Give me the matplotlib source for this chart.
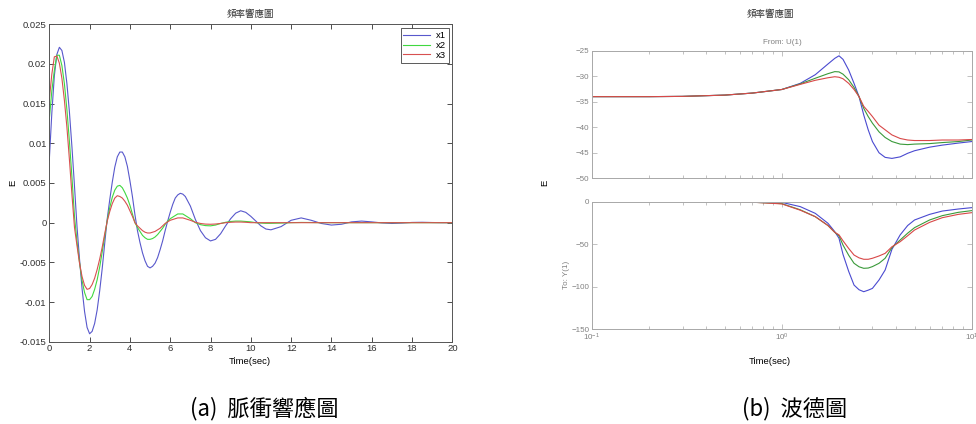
import numpy as np
import matplotlib
matplotlib.use('Agg')
import matplotlib.pyplot as plt
from matplotlib.ticker import FixedLocator, FixedFormatter, LogLocator, LogFormatterSciNotation, NullFormatter

plt.rcParams['font.family'] = ['Liberation Sans', 'Noto Sans CJK TC', 'DejaVu Sans']

# --- 脈衝響應 (impulse response) ---
# sample times: every 0.125 s up to 7 s, 0.25 s up to 11 s, 0.5 s after that
t = list(np.concatenate([np.arange(0, 7.001, 0.125),
                         np.arange(7.25, 11.001, 0.25),
                         np.arange(11.5, 20.001, 0.5)]))
x1 = [0.0079, 0.0138, 0.0185, 0.0212, 0.0221, 0.0217, 0.0202, 0.0175,
      0.0139, 0.0095, 0.0046, -0.0005, -0.0046, -0.0083, -0.0112, -0.0132,
      -0.0140, -0.0137, -0.0127, -0.0110, -0.0086, -0.0058, -0.0026, 0.0005,
      0.0029, 0.0051, 0.0070, 0.0083, 0.0089, 0.0089, 0.0083, 0.0071,
      0.0053, 0.0033, 0.0010, -0.0010, -0.0025, -0.0038, -0.0048, -0.0055,
      -0.0057, -0.0055, -0.0051, -0.0044, -0.0034, -0.0023, -0.0010, 0.0002,
      0.0013, 0.0023, 0.0031, 0.0035, 0.0037, 0.0036, 0.0033, 0.0027, 0.0021,
      0.0004, -0.0010, -0.0019, -0.0023, -0.0021, -0.0014, -0.0004, 0.0005,
      0.0012, 0.0015, 0.0013, 0.0008, 0.0002, -0.0004, -0.0008, -0.0009,
      -0.0005, 0.0003, 0.0006, 0.0003, -0.0001, -0.0003, -0.0002, 0.0001, 0.0002,
      0.0001, -0.00003, -0.0001, -0.00005, 0.00003, 0.00005, 0.00002, 0.0, 0.0]
x2 = [0.0130, 0.0166, 0.0192, 0.0211, 0.0211, 0.0198, 0.0175, 0.0142,
      0.0102, 0.0057, 0.0008, -0.0024, -0.0050, -0.0073, -0.0088, -0.0097,
      -0.0097, -0.0093, -0.0084, -0.0072, -0.0056, -0.0037, -0.0017, 0.0003,
      0.0019, 0.0032, 0.0041, 0.0046, 0.0047, 0.0044, 0.0038, 0.0031,
      0.0022, 0.0011, 0.0, -0.0006, -0.0011, -0.0016, -0.0019, -0.0021,
      -0.0021, -0.0020, -0.0018, -0.0015, -0.0011, -0.0007, -0.0002, 0.0002,
      0.0005, 0.0007, 0.0009, 0.0011, 0.0011, 0.0011, 0.0009, 0.0007, 0.0005,
      0.0, -0.00025, -0.00037, -0.0004, -0.0003, -0.0001, 0.00005, 0.00015,
      0.0002, 0.0002, 0.00015, 0.0001, 0.0, -0.00005, -0.00008, -0.00008,
      -0.00005, 0.0, 0.00003, 0.00002, 0, 0, 0, 0, 0,
      0, 0, 0, 0, 0, 0, 0, 0, 0]
x3 = [0.0155, 0.0187, 0.0209, 0.0210, 0.0201, 0.0182, 0.0154, 0.0120,
      0.0079, 0.0035, -0.0006, -0.0029, -0.0051, -0.0068, -0.0079, -0.0084,
      -0.0083, -0.0078, -0.0070, -0.0059, -0.0046, -0.0031, -0.0014, 0.0002,
      0.0014, 0.0024, 0.0031, 0.0034, 0.0033, 0.0031, 0.0027, 0.0022,
      0.0015, 0.0008, 0.0, -0.0004, -0.0007, -0.0010, -0.0012, -0.0013,
      -0.0013, -0.0012, -0.0011, -0.0009, -0.0007, -0.0004, -0.0001, 0.0001,
      0.0003, 0.0004, 0.0005, 0.0006, 0.0006, 0.0006, 0.0005, 0.0004, 0.0003,
      0.00005, -0.0001, -0.00018, -0.0002, -0.00017, -0.0001, 0.0, 0.00005,
      0.00008, 0.00008, 0.00005, 0.0, 0.0, 0.0, 0.0, 0.0,
      0, 0, 0, 0, 0, 0, 0, 0, 0,
      0, 0, 0, 0, 0, 0, 0, 0, 0]
yticks_left = [-0.015, -0.01, -0.005, 0, 0.005, 0.01, 0.015, 0.02, 0.025]
ytick_labels_left = ['-0.015', '-0.01', '-0.005', '0', '0.005', '0.01', '0.015', '0.02', '0.025']
assert len(t) == len(x1) == len(x2) == len(x3), (len(t), len(x1), len(x2), len(x3))

# --- 波德圖 (bode), values ---
nan = float('nan')
w = [0.1, 0.2, 0.3, 0.5, 0.7, 1.0, 1.25, 1.5, 1.75, 1.9, 2.0, 2.1, 2.25, 2.4, 2.55, 2.7,
     2.85, 3.0, 3.25, 3.5, 3.8, 4.2, 4.6, 5.0, 6.0, 7.0, 8.5, 10.0]
mag1 = [-34.0, -34.0, -33.95, -33.7, -33.3, -32.6, -31.4, -29.7, -27.6, -26.5, -26.0, -26.7,
        -28.8, -31.4, -34.0, -37.6, -40.5, -42.8, -45.0, -45.9, -46.1, -45.8, -45.1, -44.6,
        -43.9, -43.5, -43.1, -42.8]
mag2 = [-34.0, -34.0, -33.95, -33.7, -33.3, -32.6, -31.5, -30.4, -29.5, -29.1, -29.15, -29.6,
        -30.7, -32.2, -34.0, -36.3, -37.9, -39.2, -40.9, -42.0, -42.8, -43.3, -43.4, -43.3,
        -43.2, -43.0, -42.8, -42.5]
mag3 = [-34.0, -34.0, -33.95, -33.7, -33.3, -32.6, -31.6, -30.8, -30.3, -30.1, -30.2, -30.5,
        -31.4, -32.6, -34.0, -35.9, -36.9, -37.9, -39.6, -40.5, -41.5, -42.2, -42.5, -42.6,
        -42.6, -42.5, -42.5, -42.4]
ph1 = [nan, nan, nan, nan, -0.1, -0.8, -5.8, -13.7, -25.4, -35.2, -43.0, -62.0, -82.0, -98.0,
       -103.5, -105.8, -104.0, -101.9, -92.0, -80.3, -56.0, -39.0, -28.0, -21.5, -14.9, -11.0,
       -8.6, -7.0]
ph2 = [nan, nan, nan, -0.3, -0.6, -2.3, -9.5, -17.6, -28.0, -36.0, -40.0, -51.0, -63.0, -72.4,
       -76.5, -78.3, -78.0, -76.3, -72.4, -66.5, -54.0, -45.0, -37.0, -30.5, -21.5, -16.4,
       -12.5, -10.5]
ph3 = [nan, nan, nan, -0.3, -0.6, -2.6, -10.0, -17.6, -28.0, -36.0, -39.0, -46.0, -55.0, -62.7,
       -66.0, -67.7, -67.7, -66.5, -63.8, -60.7, -53.0, -47.0, -40.0, -33.3, -24.3, -18.8,
       -14.9, -12.9]

W, H = 976, 424
fig = plt.figure(figsize=(W / 100, H / 100), dpi=100)


def box(x0, y0, x1_, y1_):
    # pixel box -> figure fraction
    return [x0 / W, 1 - y1_ / H, (x1_ - x0) / W, (y1_ - y0) / H]


# ---------- 左圖 ----------
ax = fig.add_axes(box(49.3, 24.3, 452.3, 341.7))
ax.plot(t, x1, color='#5858cc', lw=0.8, label='x1')
ax.plot(t, x2, color='#40d840', lw=0.8, label='x2')
ax.plot(t, x3, color='#d85050', lw=0.8, label='x3')
ax.set_xlim(0, 20)
ax.set_ylim(-0.015, 0.025)
ax.set_xticks(range(0, 21, 2))
ax.yaxis.set_major_locator(FixedLocator(yticks_left))
ax.yaxis.set_major_formatter(FixedFormatter(ytick_labels_left))
ax.tick_params(direction='in', top=True, right=True, length=3.5, width=0.6,
               labelsize=6.8, colors='#303030', pad=2)
for s in ax.spines.values():
    s.set_color('#555555')
    s.set_linewidth(0.7)
leg = ax.legend(loc='upper right', fontsize=6.8, handlelength=2.8, labelspacing=0.1,
                borderpad=0.3, borderaxespad=0.4, fancybox=False, framealpha=1,
                handletextpad=0.6, edgecolor='#404040')
leg.get_frame().set_linewidth(0.6)

fig.text(250 / W, 1 - 14 / H, '頻率響應圖', ha='center', va='center', fontsize=6.8, color='#303030')
fig.text(13 / W, 1 - 183 / H, 'E', ha='center', va='center', rotation=90, fontsize=6.8)
fig.text(250 / W, 1 - 361 / H, 'Time(sec)', ha='center', va='center', fontsize=6.8)

# ---------- 右圖 ----------
gray = '#a8a8a8'
tgray = '#808080'
axm = fig.add_axes(box(592, 50.7, 971.7, 178.3))
axp = fig.add_axes(box(592, 201.7, 971.7, 329.3))
for a, ys, lims, yt in [(axm, (mag1, mag2, mag3), (-50, -25), range(-50, -24, 5)),
                        (axp, (ph1, ph2, ph3), (-150, 0), range(-150, 1, 50))]:
    a.plot(w, ys[0], color='#4a4ad0', lw=0.8)
    a.plot(w, ys[1], color='#3a9a3a', lw=0.8)
    a.plot(w, ys[2], color='#d84848', lw=0.8)
    a.set_xscale('log')
    a.set_xlim(0.1, 10)
    a.set_ylim(*lims)
    a.set_yticks(list(yt))
    a.xaxis.set_major_locator(LogLocator(base=10, numticks=5))
    a.xaxis.set_minor_locator(LogLocator(base=10, subs=np.arange(2, 10), numticks=10))
    a.xaxis.set_minor_formatter(NullFormatter())
    a.tick_params(which='both', direction='in', top=True, right=True, width=0.5,
                  colors=gray, labelcolor=tgray, labelsize=5.8, pad=2)
    a.tick_params(which='major', length=3.5)
    a.tick_params(which='minor', length=2)
    for s in a.spines.values():
        s.set_color(gray)
        s.set_linewidth(0.7)
axm.tick_params(which='both', labelbottom=False)
axp.xaxis.set_major_formatter(LogFormatterSciNotation())

fig.text(770 / W, 1 - 14 / H, '頻率響應圖', ha='center', va='center', fontsize=6.8, color='#303030')
fig.text(782 / W, 1 - 42 / H, 'From: U(1)', ha='center', va='center', fontsize=5.8, color=tgray)
fig.text(545 / W, 1 - 183 / H, 'E', ha='center', va='center', rotation=90, fontsize=6.8)
fig.text(567 / W, 1 - 275 / H, 'To: Y(1)', ha='center', va='center', rotation=90,
         fontsize=5.8, color=tgray)
fig.text(770 / W, 1 - 361 / H, 'Time(sec)', ha='center', va='center', fontsize=6.8)

# ---------- 圖說 ----------
fig.text(264 / W, 1 - 409 / H, '(a)  脈衝響應圖', ha='center', va='center', fontsize=16,
         family=['Noto Sans CJK TC'])
fig.text(795 / W, 1 - 409 / H, '(b)  波德圖', ha='center', va='center', fontsize=16,
         family=['Noto Sans CJK TC'])

fig.savefig('out.png', dpi=100)
